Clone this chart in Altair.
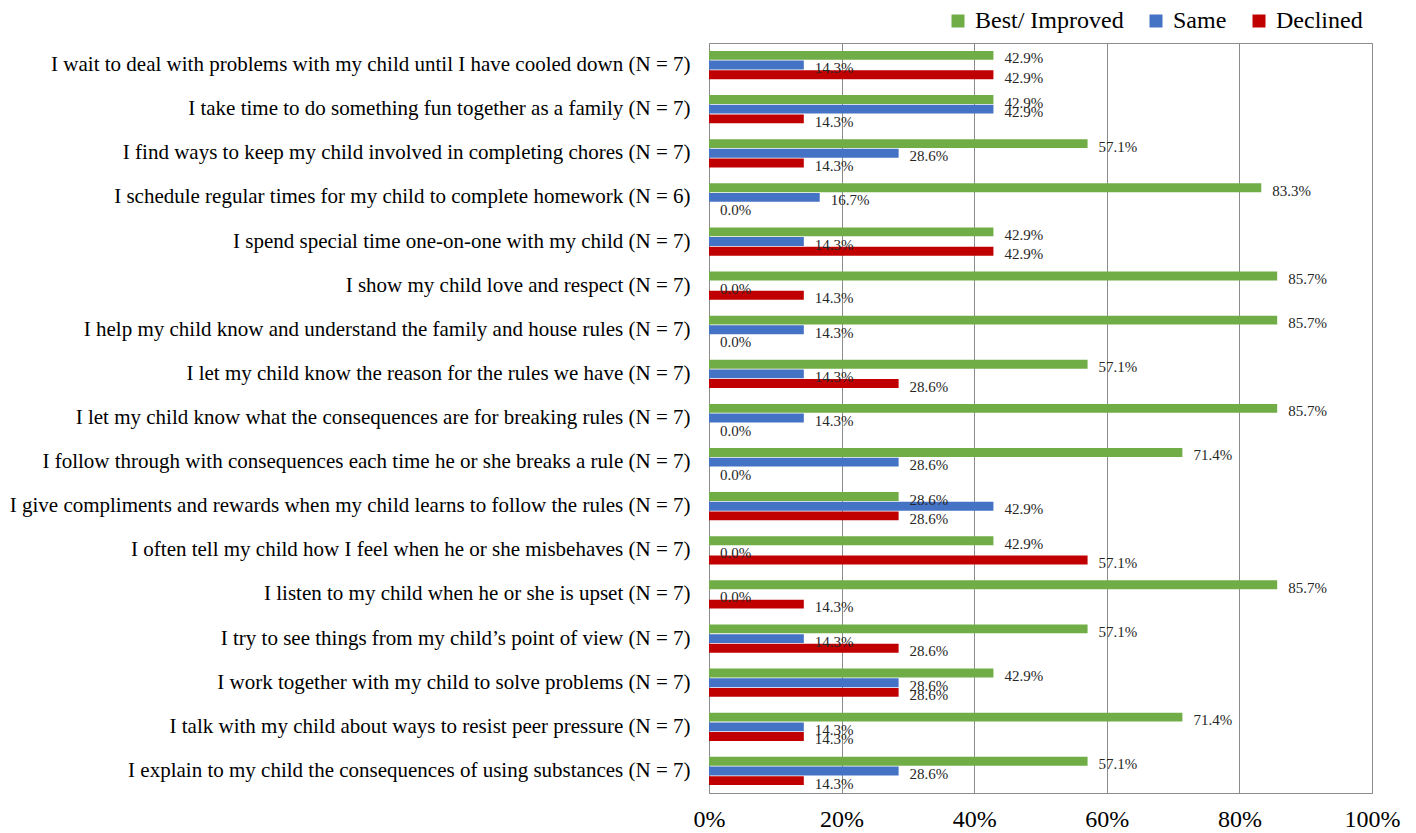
import altair as alt
import pandas as pd

categories = [
    "I wait to deal with problems with my child until I have cooled down (N = 7)",
    "I take time to do something fun together as a family (N = 7)",
    "I find ways to keep my child involved in completing chores (N = 7)",
    "I schedule regular times for my child to complete homework (N = 6)",
    "I spend special time one-on-one with my child (N = 7)",
    "I show my child love and respect (N = 7)",
    "I help my child know and understand the family and house rules (N = 7)",
    "I let my child know the reason for the rules we have (N = 7)",
    "I let my child know what the consequences are for breaking rules (N = 7)",
    "I follow through with consequences each time he or she breaks a rule (N = 7)",
    "I give compliments and rewards when my child learns to follow the rules (N = 7)",
    "I often tell my child how I feel when he or she misbehaves (N = 7)",
    "I listen to my child when he or she is upset (N = 7)",
    "I try to see things from my child\u2019s point of view (N = 7)",
    "I work together with my child to solve problems (N = 7)",
    "I talk with my child about ways to resist peer pressure (N = 7)",
    "I explain to my child the consequences of using substances (N = 7)",
]
best = [0.429, 0.429, 0.571, 0.833, 0.429, 0.857, 0.857, 0.571, 0.857, 0.714,
        0.286, 0.429, 0.857, 0.571, 0.429, 0.714, 0.571]
same = [0.143, 0.429, 0.286, 0.167, 0.143, 0.0, 0.143, 0.143, 0.143, 0.286,
        0.429, 0.0, 0.0, 0.143, 0.286, 0.143, 0.286]
declined = [0.429, 0.143, 0.143, 0.0, 0.429, 0.143, 0.0, 0.286, 0.0, 0.0,
            0.286, 0.571, 0.143, 0.286, 0.286, 0.143, 0.143]
series = ["Best/ Improved", "Same", "Declined"]
colors = ["#70AD47", "#4472C4", "#C00000"]
x_ticks = [0, 0.2, 0.4, 0.6, 0.8, 1.0]

rows = []
for i, c in enumerate(categories):
    for s, vals in zip(series, [best, same, declined]):
        rows.append({"item": c, "series": s, "value": vals[i]})
df = pd.DataFrame(rows)

FONT = "Liberation Serif"

y = alt.Y(
    "item:N", sort=categories,
    scale=alt.Scale(paddingInner=0.36, paddingOuter=0.18),
    axis=alt.Axis(title=None, labelFont=FONT, labelFontSize=21, labelColor="black",
                  ticks=False, domain=False, labelPadding=19, labelLimit=0),
)
yoff = alt.YOffset("series:N", sort=series, scale=alt.Scale(domain=series, paddingInner=0.08))
x = alt.X(
    "value:Q", scale=alt.Scale(domain=[0, 1]),
    axis=alt.Axis(title=None, values=x_ticks, format=".0%", labelFont=FONT, labelFontSize=24,
                  labelColor="black", ticks=False, domain=False, labelPadding=14,
                  labelFlush=False, grid=True, gridColor="#8c8c8c", gridWidth=1),
)

bars = alt.Chart(df).mark_bar().encode(
    x=x, y=y, yOffset=yoff,
    color=alt.Color(
        "series:N", sort=series,
        scale=alt.Scale(domain=series, range=colors),
        legend=alt.Legend(
            title=None, orient="none", direction="horizontal", legendX=237, legendY=-34,
            symbolType="square", symbolSize=169, symbolStrokeWidth=0,
            labelFont=FONT, labelFontSize=24, labelColor="black",
            columnPadding=20, labelOffset=5,
        ),
    ),
)
text = alt.Chart(df).mark_text(
    align="left", baseline="middle", dx=11, dy=3, font=FONT, fontSize=15, color="#262626"
).encode(x=x, y=y, yOffset=yoff, text=alt.Text("value:Q", format=".1%"))

chart = alt.layer(bars, text).properties(
    width=663, height=750,
    padding={"left": 701, "top": 35, "right": 36, "bottom": 38},
    autosize=alt.AutoSizeParams(type="none"),
).configure_view(stroke="#8c8c8c", strokeWidth=1)

chart.save("out.html", embed_options={"renderer": "svg", "actions": False})
